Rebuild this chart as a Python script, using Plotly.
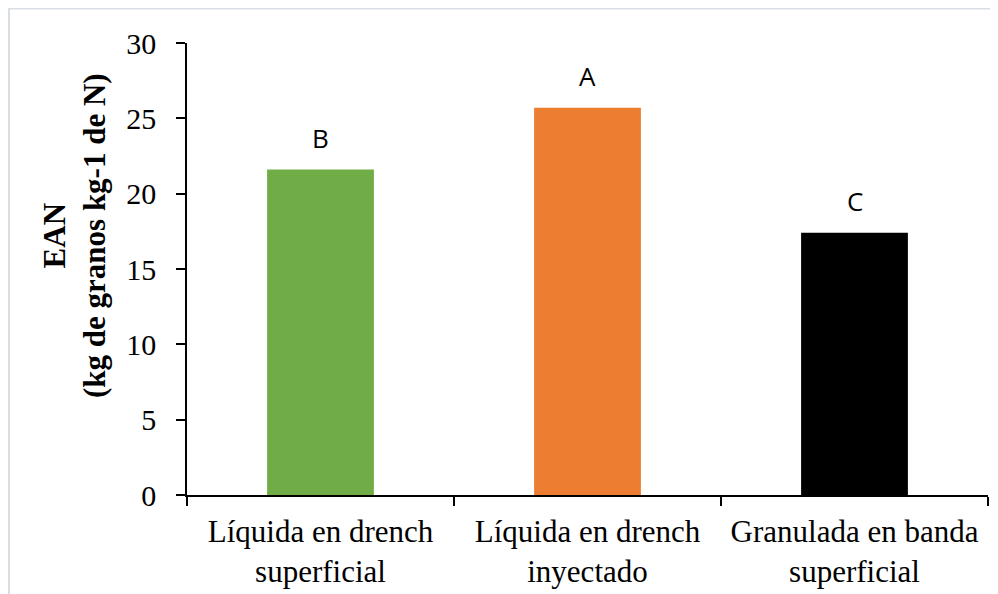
import plotly.graph_objects as go

categories = ["Líquida en drench<br>superficial", "Líquida en drench<br>inyectado", "Granulada en banda<br>superficial"]
values = [21.6, 25.7, 17.4]
letters = ["B", "A", "C"]
colors = ["#70AD47", "#ED7D31", "#000000"]
y_ticks = [0, 5, 10, 15, 20, 25, 30]
y_title = "<b>EAN<br>(kg de granos kg-1 de N)</b>"

fig = go.Figure()
fig.add_trace(go.Bar(x=categories, y=values, marker=dict(color=colors, line=dict(width=0)), width=0.4))

for c, v, t in zip(categories, values, letters):
    fig.add_annotation(x=c, y=v, text=t, showarrow=False, yanchor="bottom", yshift=12,
                       font=dict(family="Open Sans", size=26, color="black"))

W, H = 990, 586
L, R, T, B = 179, 10, 35, 99
pw, ph = W - L - R, H - T - B

fig.add_annotation(text=y_title, xref="paper", yref="paper",
                   x=(66 - L) / pw, y=1 - (227 - T) / ph, xanchor="center", yanchor="middle",
                   textangle=-90, showarrow=False,
                   font=dict(family="Liberation Serif", size=31, color="black"))

fig.add_shape(type="rect", xref="paper", yref="paper",
              x0=(1 - L) / pw, x1=(W + 20 - L) / pw,
              y0=-(H + 20 - T - ph) / ph, y1=(ph + T - 0.5) / ph,
              line=dict(color="#D9DEE4", width=2), fillcolor="rgba(0,0,0,0)", layer="below")

fig.update_layout(
    width=W, height=H,
    margin=dict(l=L, r=R, t=T, b=B, autoexpand=False),
    plot_bgcolor="white", paper_bgcolor="white",
    showlegend=False,
    font=dict(family="Liberation Serif", color="black"),
    xaxis=dict(showline=True, linecolor="black", linewidth=1.5, ticks="outside", tickson="boundaries",
               ticklen=9, tickcolor="black", tickwidth=1.5, tickfont=dict(size=31), showgrid=False,
               ticklabelstandoff=8),
    yaxis=dict(range=[0, 30], tickvals=y_ticks, showline=True, linecolor="black", linewidth=1.5,
               ticks="outside", ticklen=9, tickcolor="black", tickwidth=1.5,
               tickfont=dict(size=30), showgrid=False, zeroline=False, ticklabelstandoff=14),
)

fig.write_html("out.html")
